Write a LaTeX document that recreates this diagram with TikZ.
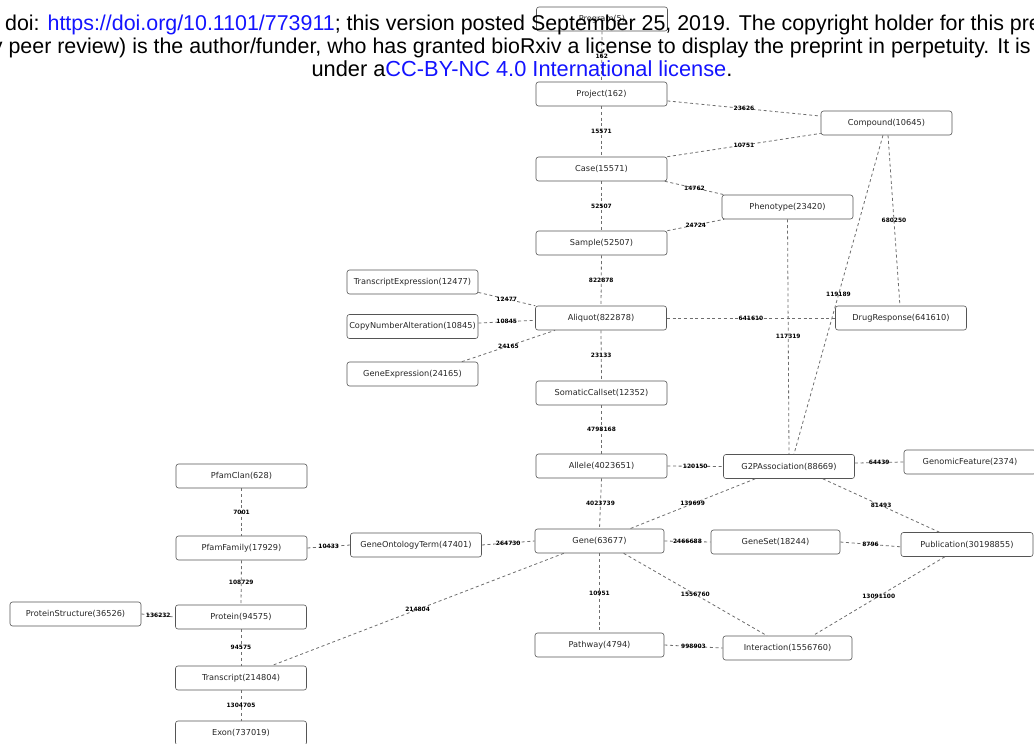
\documentclass[tikz,border=0pt]{standalone}
\usepackage{fontspec}
\newfontfamily\hdrfont{Liberation Sans}
\newfontfamily\boxfont{DejaVu Sans}
\definecolor{linkblue}{RGB}{20,20,255}
\definecolor{boxline}{RGB}{85,85,85}
\definecolor{relline}{RGB}{110,110,110}
\tikzset{
 ent/.style={draw=boxline, line width=0.6pt, rounded corners=2.5pt, minimum width=131pt, minimum height=24pt, inner sep=0pt, font=\boxfont\fontsize{8.2}{9}\selectfont, text=black!85},
 rel/.style={draw=relline, line width=0.8pt, dash pattern=on 3pt off 2.7pt},
 lbl/.style={font=\boxfont\bfseries\fontsize{5.9}{6}\selectfont, inner sep=0.5pt, text=black},
 hdr/.style={font=\hdrfont\fontsize{21.4}{22}\selectfont, inner sep=0pt}
}
\begin{document}
\begin{tikzpicture}[x=1pt,y=-1pt]
\useasboundingbox (0,0) rectangle (1034,744);
\clip (0,0) rectangle (1034,744);
\fill[white] (0,0) rectangle (1034,744);
% entities
\node[ent] (program) at (602,19) {Program(5)};
\node[ent] (project) at (601.5,94) {Project(162)};
\node[ent] (compound) at (886.5,123) {Compound(10645)};
\node[ent] (case) at (601.5,169) {Case(15571)};
\node[ent] (phenotype) at (787.5,207) {Phenotype(23420)};
\node[ent] (sample) at (601.5,243) {Sample(52507)};
\node[ent] (texpr) at (412.5,282) {TranscriptExpression(12477)};
\node[ent] (aliquot) at (601,318) {Aliquot(822878)};
\node[ent] (cna) at (412.5,326.5) {CopyNumberAlteration(10845)};
\node[ent] (gexpr) at (412.5,374) {GeneExpression(24165)};
\node[ent] (drug) at (901,318) {DrugResponse(641610)};
\node[ent] (somatic) at (601.5,393) {SomaticCallset(12352)};
\node[ent] (allele) at (601.5,466) {Allele(4023651)};
\node[ent] (g2p) at (789,466.5) {G2PAssociation(88669)};
\node[ent, minimum width=132pt] (genomic) at (970,462) {GenomicFeature(2374)};
\node[ent] (pfamclan) at (241.5,476) {PfamClan(628)};
\node[ent] (pfamfam) at (241.5,548) {PfamFamily(17929)};
\node[ent] (goterm) at (416,545) {GeneOntologyTerm(47401)};
\node[ent, minimum width=129pt] (gene) at (599.5,541) {Gene(63677)};
\node[ent, minimum width=129pt] (geneset) at (775.5,542) {GeneSet(18244)};
\node[ent, minimum width=132pt] (publication) at (967,544.5) {Publication(30198855)};
\node[ent] (pstruct) at (75.5,614) {ProteinStructure(36526)};
\node[ent] (protein) at (241,617) {Protein(94575)};
\node[ent, minimum width=129pt] (pathway) at (599.5,645) {Pathway(4794)};
\node[ent, minimum width=129pt] (interaction) at (787.5,648) {Interaction(1556760)};
\node[ent] (transcript) at (241,678) {Transcript(214804)};
\node[ent] (exon) at (241,733) {Exon(737019)};
% relations
\draw[rel] (program.south) -- (project.north) node[lbl, midway] {162};
\draw[rel] (project.south) -- (case.north) node[lbl, midway] {15571};
\draw[rel] (case.south) -- (sample.north) node[lbl, midway] {52507};
\draw[rel] (sample.south) -- (aliquot.north) node[lbl, midway] {822878};
\draw[rel] (aliquot.south) -- (somatic.north) node[lbl, midway] {23133};
\draw[rel] (somatic.south) -- (allele.north) node[lbl, midway] {4798168};
\draw[rel] (allele.south) -- (gene.north) node[lbl, midway] {4023739};
\draw[rel] (gene.south) -- (pathway.north) node[lbl, midway] {10951};
\draw[rel] (pfamclan.south) -- (pfamfam.north) node[lbl, midway] {7001};
\draw[rel] (pfamfam.south) -- (protein.north) node[lbl, midway] {108729};
\draw[rel] (protein.south) -- (transcript.north) node[lbl, midway] {94575};
\draw[rel] (transcript.south) -- (exon.north) node[lbl, midway] {1304705};
\draw[rel] (project.-6) -- (compound.174) node[lbl, midway] {23626};
\draw[rel] (case.north east) -- (compound.189) node[lbl, midway] {10751};
\draw[rel] (case.-11) -- (phenotype.169) node[lbl, midway] {14762};
\draw[rel] (sample.north east) -- (phenotype.191) node[lbl, midway] {24724};
\draw[rel] (compound.-83) -- (drug.95) node[lbl, midway] {680250};
\draw[rel] (compound.254) -- (g2p.68) node[lbl, midway] {119189};
\draw[rel] (phenotype.south) -- (g2p.north) node[lbl, midway] {117319};
\draw[rel] (aliquot.east) -- (drug.west) node[lbl, midway] {641610};
\draw[rel] (texpr.-9.5) -- (aliquot.north west) node[lbl, midway] {12477};
\draw[rel] (cna.3) -- (aliquot.182.6) node[lbl, midway] {10845};
\draw[rel] (gexpr.14.8) -- (aliquot.195.3) node[lbl, midway] {24165};
\draw[rel] (allele.east) -- (g2p.west) node[lbl, midway] {120150};
\draw[rel] (g2p.3) -- (genomic.west) node[lbl, midway] {64439};
\draw[rel] (g2p.200.7) -- (gene.22.8) node[lbl, midway] {139699};
\draw[rel] (g2p.-20.7) -- (publication.156.7) node[lbl, midway] {81493};
\draw[rel] (gene.east) -- (geneset.west) node[lbl, midway] {2466688};
\draw[rel] (geneset.east) -- (publication.182) node[lbl, midway] {8796};
\draw[rel] (gene.-27) -- (interaction.149.7) node[lbl, midway] {1556760};
\draw[rel] (publication.209.6) -- (interaction.26.1) node[lbl, midway] {13091100};
\draw[rel] (pathway.east) -- (interaction.west) node[lbl, midway] {998903};
\draw[rel] (goterm.east) -- (gene.west) node[lbl, midway] {264730};
\draw[rel] (pfamfam.east) -- (goterm.west) node[lbl, midway] {10433};
\draw[rel] (gene.199.2) -- (transcript.22.5) node[lbl, midway] {214804};
\draw[rel] (pstruct.east) -- (protein.west) node[lbl, midway] {136232};
% header text
\node[hdr, anchor=base west] (h1) at (5,30.5) {doi: \textcolor{linkblue}{https://doi.org/10.1101/773911}; this version posted September 25, 2019. The copyright holder for this pre};
\node[hdr, anchor=base east] (h2) at (1031,53) {y peer review) is the author/funder, who has granted bioRxiv a license to display the preprint in perpetuity. It is};
\node[hdr, anchor=base, font=\hdrfont\fontsize{21.8}{22}\selectfont] (h3) at (522,76) {under a\textcolor{linkblue}{CC-BY-NC 4.0 International license}.};
\end{tikzpicture}
\end{document}
